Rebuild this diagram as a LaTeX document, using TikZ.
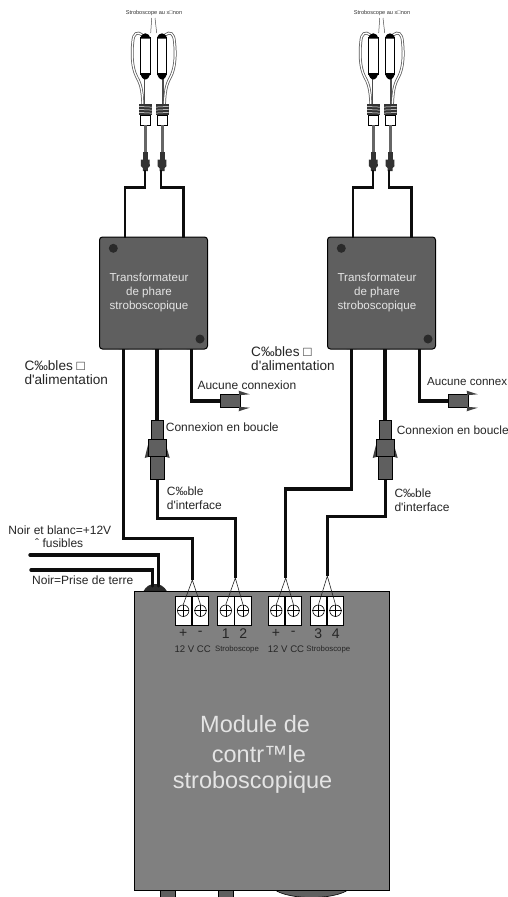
\documentclass[tikz,border=0pt]{standalone}
\usepackage{fontspec}
\newfontfamily\arialfam{Liberation Sans}
\newcommand\pxfont[2]{\arialfam\fontsize{#1}{#2}\selectfont}
\definecolor{modgray}{HTML}{808080}
\definecolor{boxgray}{HTML}{5F5F5F}
\definecolor{holedark}{HTML}{2A2A2A}
\definecolor{txtlight}{HTML}{E4E4E4}
\tikzset{
  wire/.style={line width=3.4pt,line join=miter,black!95},
  thinwire/.style={line width=0.6pt,black!85},
  xfbox/.style={draw=black,fill=boxgray,line width=1pt,rounded corners=3pt,minimum width=108pt,minimum height=112pt,inner sep=0pt},
  hole/.style={circle,fill=holedark,minimum size=9pt,inner sep=0pt},
  xftext/.style={text=txtlight,font=\pxfont{11.6}{14},align=center,inner sep=0pt},
  lab/.style={anchor=west,inner sep=0pt,align=left,text=black!85,font=\pxfont{12}{14}},
  biglab/.style={anchor=west,inner sep=0pt,align=left,text=black!85,font=\pxfont{13.6}{14}},
  conn/.style={draw=black,fill=boxgray,line width=0.6pt},
  termbox/.style={draw=black,fill=white,line width=0.6pt,minimum width=16.5pt,minimum height=28.5pt,inner sep=0pt},
  sign/.style={inner sep=0pt,text=black!85,font=\pxfont{14}{14}},
  ccl/.style={inner sep=0pt,text=black!85,font=\pxfont{9.6}{10}},
  stl/.style={inner sep=0pt,text=black!85,font=\pxfont{7.8}{8}},
  modtxt/.style={anchor=west,inner sep=0pt,text=txtlight,font=\pxfont{23.5}{24}},
  peg/.style={fill=holedark},
}
% one lamp: origin on the tube axis, #1 = 1 or -1 mirrors the loop
\newcommand\onelamp[2]{%
  \begin{scope}[shift={(#2,0)},xscale=#1]
    \draw[line width=1.2pt,black!70] (-1,75) -- (-1,105);
    \draw[line width=2.8pt,black!65] (-3,35) .. controls (-8,31) and (-12,33) .. (-12.5,42)
       .. controls (-14,55) and (-13,68) .. (-9,76) .. controls (-6,82) and (-3,86) .. (-2.5,105);
    \draw[line width=1.3pt,white] (-3,35) .. controls (-8,31) and (-12,33) .. (-12.5,42)
       .. controls (-14,55) and (-13,68) .. (-9,76) .. controls (-6,82) and (-3,86) .. (-2.5,105);
    \draw[fill=white,line width=0.7pt] (-4.7,37) rectangle (4.7,74);
    \fill[black] (-4.7,38.5) .. controls (-4.7,35) and (-2,33.3) .. (0,33.3)
       .. controls (2,33.3) and (4.7,35) .. (4.7,38.5) -- cycle;
    \fill[black] (-4.7,73) .. controls (-4.7,77) and (-2,79.5) .. (0,79.5)
       .. controls (2,79.5) and (4.7,77) .. (4.7,73) -- cycle;
    \fill[black!80] (-6.5,104) rectangle (6.5,115);
    \foreach \yy in {106.5,109.5,112.5} \draw[white,line width=0.5pt] (-6.5,\yy) -- (6.5,\yy+0.6);
    \draw[fill=white,line width=0.7pt] (-5,115.5) rectangle (5,125);
    \draw[line width=3pt,black!60] (0,125) -- (0,152);
    \fill[black!80] (-2.5,151.5) rectangle (2.5,159.5);
    \fill[black!80] (-4.3,159.5) -- (4.3,159.5) -- (4.5,166) -- (2.5,168) -- (2.5,171) -- (-2.5,171) -- (-2.5,168) -- (-4.5,166) -- cycle;
  \end{scope}}
% all that repeats on one side of the picture
\newcommand\xfside[2]{%
  \begin{scope}[shift={(#1,0)}]
    \node[inner sep=0pt,text=black!80,font=\pxfont{5.6}{6}] (#2lamptxt) at (154,12.7) {Stroboscope au x□non};
    \draw[line width=0.5pt,black!70] (151.7,18) -- (150.7,33) (155,18) -- (156.7,33);
    \onelamp{1}{145.3}\onelamp{-1}{162}
    \fill[peg] (120,237) arc[start angle=180,end angle=0,radius=5] -- cycle;
    \fill[peg] (178,237) arc[start angle=180,end angle=0,radius=5] -- cycle;
    \fill[peg] (118.7,349) arc[start angle=180,end angle=360,radius=5] -- cycle;
    \fill[peg] (152,349) arc[start angle=180,end angle=360,radius=5] -- cycle;
    \fill[peg] (186.7,349) arc[start angle=180,end angle=360,radius=5] -- cycle;
    \node[xfbox] (#2box) at (153.5,293) {};
    \node[hole] (#2holea) at (113.3,248.3) {};
    \node[hole] (#2holeb) at (200,339) {};
    \node[xftext] (#2boxtxt) at (149,293) {Transformateur\\de phare\\stroboscopique};
    \coordinate (#2lampa) at (145,170);
    \coordinate (#2lampb) at (161,170);
    \coordinate (#2ta) at (125,238);
    \coordinate (#2tb) at (183.5,238);
    \coordinate (#2ba) at (123.7,349);
    \coordinate (#2bb) at (157,349);
    \coordinate (#2bc) at (191.7,349);
    \draw[wire,line width=2.8pt] (#2lampa) -- (145,187.5) -- (125,187.5) -- (#2ta);
    \draw[wire,line width=2.8pt] (#2lampb) -- (161,187.5) -- (183.5,187.5) -- (#2tb);
    % dead-end plug
    \node[conn,minimum width=20pt,minimum height=12.6pt,inner sep=0pt] (#2plug) at (230.7,401) {};
    \fill[black!75] (238.7,390.7) -- (249.7,394.3) -- (239.3,395.2) -- cycle;
    \fill[black!75] (238.7,411.3) -- (249.7,407.7) -- (239.3,406.8) -- cycle;
    \draw[wire] (#2bc) |- (#2plug.west);
    % loop-back plug
    \fill[black!75] (148,445) -- (144.7,458) -- (150,456.5) -- cycle;
    \fill[black!75] (166,445) -- (169.7,458) -- (164.7,456.5) -- cycle;
    \node[conn,minimum width=11.7pt,minimum height=18.6pt,inner sep=0pt] (#2pa) at (157,430) {};
    \node[conn,minimum width=18pt,minimum height=16.7pt,inner sep=0pt] (#2pb) at (157,447.7) {};
    \node[conn,minimum width=14pt,minimum height=23.3pt,inner sep=0pt] (#2pc) at (157.7,467.7) {};
    \draw[wire] (#2bb) -- (#2pa.north);
  \end{scope}}
\begin{document}
\begin{tikzpicture}[x=1pt,y=-1pt]
\clip (0,0) rectangle (508,897);
\fill[white] (0,0) rectangle (508,897);
\xfside{0}{l}
\xfside{228}{r}
% module
\fill[boxgray,draw=black,line width=0.6pt] (160,890) rectangle (175.7,897);
\fill[boxgray,draw=black,line width=0.6pt] (218,890) rectangle (233.7,897);
\fill[boxgray,draw=black,line width=0.6pt] (275,890) .. controls (290,900) and (333,900) .. (348,890) -- cycle;
\fill[holedark] (143,592) .. controls (146,586) and (150,584) .. (155,584) .. controls (160,584) and (164,586) .. (167.5,592) -- cycle;
\node[draw=black,fill=modgray,line width=1pt,minimum width=255pt,minimum height=298.5pt,inner sep=0pt] (module) at (261.8,741) {};
% terminals
\foreach \nm/\xx in {ta/183.2,tb/200.5,tc/225.8,td/243,te/276.3,tf/293.5,tg/318.5,th/335.5}{
  \node[termbox] (\nm) at (\xx,611) {};
  \node[circle,draw=black,line width=0.6pt,minimum size=11.5pt,inner sep=0pt] (\nm s) at (\xx,610.7) {};
  \draw[line width=0.6pt] (\nm s.west) -- (\nm s.east) (\nm s.north) -- (\nm s.south);
}
\coordinate (apa) at (192.3,580);
\coordinate (apb) at (235.3,578);
\coordinate (apc) at (285.7,578);
\coordinate (apd) at (327.3,576);
\foreach \ap/\sa/\sb in {apa/ta/tb,apb/tc/td,apc/te/tf,apd/tg/th}{
  \draw[thinwire] (\sa s.north) -- (\ap) -- (\sb s.north);
}
% long wires
\draw[wire] (lba) -- (lba |- 0,538.3) -- (apa |- 0,538.3) -- (apa);
\draw[wire] (lpc.south) -- (lpc.south |- 0,518.3) -- (apb |- 0,518.3) -- (apb);
\draw[wire] (rba) -- (rba |- 0,489) -- (apc |- 0,489) -- (apc);
\draw[wire] (rpc.south) -- (rpc.south |- 0,516.7) -- (apd |- 0,516.7) -- (apd);
% mains wires
\coordinate (pwa) at (30,555);
\coordinate (pwb) at (31,570);
\coordinate (pwc) at (158.7,586);
\coordinate (pwd) at (152.7,586);
\draw[wire,line cap=round] (pwa) -- (pwc |- pwa) -- (pwc);
\draw[wire,line cap=round] (pwb) -- (pwd |- pwb) -- (pwd);
% labels
\node[biglab] (la) at (24.3,373) {C‰bles □\\d'alimentation};
\node[biglab] (lb) at (251,359) {C‰bles □\\d'alimentation};
\node[lab] (lc) at (197.3,385) {Aucune connexion};
\node[lab,font=\pxfont{11.6}{14}] (ld) at (427,381.7) {Aucune connex};
\node[lab] (le) at (165.7,427.7) {Connexion en boucle};
\node[lab,font=\pxfont{11.9}{14}] (lf) at (396.7,430.7) {Connexion en boucle};
\node[lab] (lg) at (166.7,498.7) {C‰ble\\d'interface};
\node[lab] (lh) at (394.3,500) {C‰ble\\d'interface};
\node[lab] (li) at (8.3,530) {Noir et blanc=+12V};
\node[lab] (lj) at (35,543.3) {ˆ fusibles};
\node[lab] (lk) at (32,580.7) {Noir=Prise de terre};
\foreach \nm/\xx/\tt in {sa/183.3/+,sb/200.3/-,sc/225.7/1,sd/243.3/2,se/276/+,sf/293.3/-,sg/318.3/3,sh/335.7/4}{
  \node[sign] (\nm) at (\xx,633.5) {\tt};
}
\node[ccl] (cca) at (192.7,649) {12 V CC};
\node[ccl] (ccb) at (286,649) {12 V CC};
\node[stl] (sta) at (237,649.5) {Stroboscope};
\node[stl] (stb) at (328.3,649.5) {Stroboscope};
\node[modtxt] (mta) at (200,724) {Module de};
\node[modtxt] (mtb) at (211.7,754) {contr™le};
\node[modtxt] (mtc) at (172.7,782) {stroboscopique};
\end{tikzpicture}
\end{document}
